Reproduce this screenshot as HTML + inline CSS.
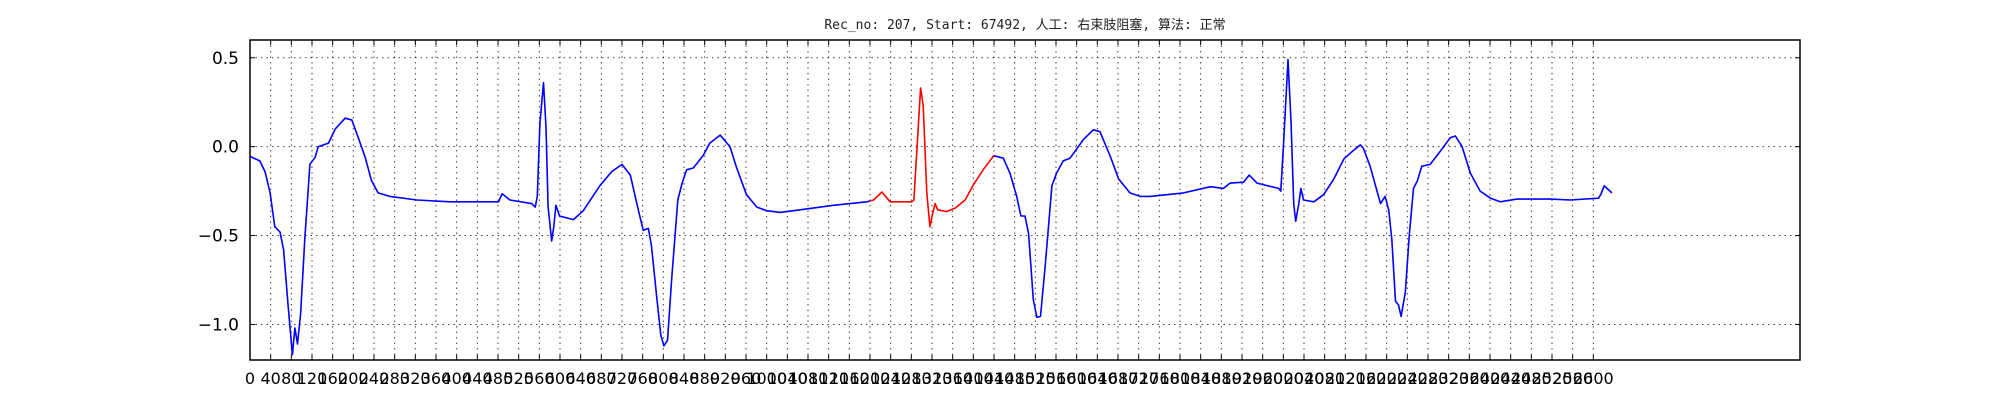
<!DOCTYPE html>
<html><head><meta charset="utf-8">
<style>
html,body{margin:0;padding:0;background:#fff;}
svg{display:block;}
text{font-family:"DejaVu Sans","Liberation Sans",sans-serif;}
</style></head>
<body>
<svg id="chart" width="2000" height="400" viewBox="0 0 2000 400" xmlns="http://www.w3.org/2000/svg">
<text x="1025" y="29" text-anchor="middle" font-size="13" fill="#222" style="font-family:'DejaVu Sans Mono','Liberation Mono','Noto Sans CJK SC',monospace">Rec_no: 207, Start: 67492, 人工: 右束肢阻塞, 算法: 正常</text>
<g id="grid"></g>
<g id="series"></g>
<rect x="250" y="40" width="1550" height="320" fill="none" stroke="#000" stroke-width="1.5"/>
<g id="ticks"></g>
</svg>
<script>
const sampleIdx = [0,19,29,39,48,58,65,74,82,87,92,98,106,116,126,132,152,165,184,197,206,223,235,248,271,323,387,452,481,488,503,545,552,556,561,568,573,577,584,588,592,599,626,645,677,700,720,736,752,761,771,777,787,795,801,808,816,828,836,845,858,877,890,
910,929,942,961,981,1000,1026,1065,1129,1194,1200,1207,1223,1239,1281,1285,1292,1298,1303,1310,1316,1321,1326,1331,1348,1365,1384,1400,1419,1436,1439,1458,1471,1484,1492,1500,1507,1516,1523,1530,1539,1552,1561,1574,1587,1613,1632,1645,1665,1681,1703,1723,1742,
1807,1859,1884,1897,1923,1934,1949,1991,1995,2001,2009,2015,2020,2024,2030,2034,2039,2059,2078,2097,2117,2130,2149,2155,2168,2188,2197,2204,2210,2217,2223,2228,2236,2244,2252,2259,2268,2284,2304,2323,2333,2346,2362,2381,2401,2420,2452,2517,2555,2610,2615,2621,2636];
const ecgValues = [-0.055,-0.08,-0.14,-0.26,-0.45,-0.48,-0.58,-0.90,-1.17,-1.02,-1.11,-0.94,-0.52,-0.10,-0.06,0.0,0.02,0.10,0.16,0.15,0.08,-0.06,-0.19,-0.26,-0.28,-0.30,-0.31,-0.31,-0.31,-0.265,-0.30,-0.32,-0.34,-0.28,0.13,0.36,0.11,-0.34,-0.53,-0.45,-0.33,-0.39,-0.41,-0.36,-0.22,-0.14,-0.10,-0.16,-0.36,-0.47,-0.46,-0.56,-0.84,-1.06,-1.12,-1.09,-0.75,-0.30,-0.21,-0.13,-0.12,-0.05,0.02,
0.065,0.0,-0.12,-0.27,-0.34,-0.36,-0.37,-0.355,-0.33,-0.31,-0.305,-0.30,-0.255,-0.31,-0.31,-0.30,0.04,0.33,0.23,-0.26,-0.45,-0.38,-0.32,-0.355,-0.365,-0.345,-0.30,-0.215,-0.13,-0.065,-0.05,-0.065,-0.15,-0.28,-0.39,-0.39,-0.49,-0.86,-0.96,-0.955,-0.67,-0.22,-0.15,-0.08,-0.065,0.04,0.095,0.085,-0.055,-0.18,-0.26,-0.28,-0.28,
-0.26,-0.225,-0.235,-0.205,-0.20,-0.16,-0.205,-0.235,-0.25,0.04,0.49,0.13,-0.32,-0.42,-0.32,-0.235,-0.30,-0.31,-0.27,-0.185,-0.07,-0.035,0.01,-0.01,-0.11,-0.32,-0.28,-0.355,-0.52,-0.87,-0.89,-0.955,-0.82,-0.49,-0.235,-0.195,-0.11,-0.10,-0.025,0.05,0.06,0.0,-0.15,-0.25,-0.29,-0.31,-0.295,-0.295,-0.30,-0.29,-0.265,-0.22,-0.26];
const redRange = [1200, 1439];
const yTicks = [0.5, 0.0, -0.5, -1.0];
const yTickLabels = ["0.5","0.0","\u22120.5","\u22121.0"];
const xTickStep = 40, xTickMax = 2600;

const X0=250,X1=1800,Y0=40,Y1=360,XMIN=0,XMAX=3000,YMIN=-1.2,YMAX=0.6;
const sx=t=>X0+(t-XMIN)*(X1-X0)/(XMAX-XMIN);
const sy=v=>Y0+(YMAX-v)*(Y1-Y0)/(YMAX-YMIN);
const NS="http://www.w3.org/2000/svg";
const grid=document.getElementById('grid'),ticks=document.getElementById('ticks'),series=document.getElementById('series');
function mk(tag,attrs,parent){const e=document.createElementNS(NS,tag);for(const k in attrs)e.setAttribute(k,attrs[k]);parent.appendChild(e);return e;}

for(let t=0;t<=xTickMax;t+=xTickStep){
  const x=sx(t);
  const g=mk('line',{x1:x,y1:Y0,x2:x,y2:Y1,stroke:'#000','stroke-width':1,'stroke-dasharray':'1.5,4','stroke-opacity':0.75},grid);
  
  
  const tb=mk('line',{x1:x,y1:Y1,x2:x,y2:Y1-5,stroke:'#000','stroke-width':1},ticks);
  
  
  const tt=mk('line',{x1:x,y1:Y0,x2:x,y2:Y0+5,stroke:'#000','stroke-width':1},ticks);
  
  
  const lb=mk('text',{x:x,y:384,'text-anchor':'middle','font-size':16,fill:'#000'},ticks);
  lb.textContent=String(t);
  
  
}
yTicks.forEach((v,i)=>{
  const y=sy(v);
  const g=mk('line',{x1:X0,y1:y,x2:X1,y2:y,stroke:'#000','stroke-width':1,'stroke-dasharray':'1.5,4','stroke-opacity':0.75},grid);
  
  
  const tl=mk('line',{x1:X0,y1:y,x2:X0+5,y2:y,stroke:'#000','stroke-width':1},ticks);
  
  
  const tr=mk('line',{x1:X1,y1:y,x2:X1-5,y2:y,stroke:'#000','stroke-width':1},ticks);
  
  
  const lb=mk('text',{x:239,y:y+6,'text-anchor':'end','font-size':17,fill:'#000'},ticks);
  lb.textContent=yTickLabels[i];
  
  
});

function pathFor(filter){
  let d='';let started=false;
  for(let i=0;i<sampleIdx.length;i++){
    if(!filter(sampleIdx[i])){started=false;continue;}
    d+=(started?'L':'M')+sx(sampleIdx[i]).toFixed(1)+','+sy(ecgValues[i]).toFixed(1);
    started=true;
  }
  return d;
}
const blue=mk('path',{d:pathFor(t=>t<=redRange[0]||t>=redRange[1]),fill:'none',stroke:'#0000ff','stroke-width':1.6,'stroke-linejoin':'round'},series);


const red=mk('path',{d:pathFor(t=>t>=redRange[0]&&t<=redRange[1]),fill:'none',stroke:'#ff0000','stroke-width':1.6,'stroke-linejoin':'round'},series);


</script>
</body></html>
